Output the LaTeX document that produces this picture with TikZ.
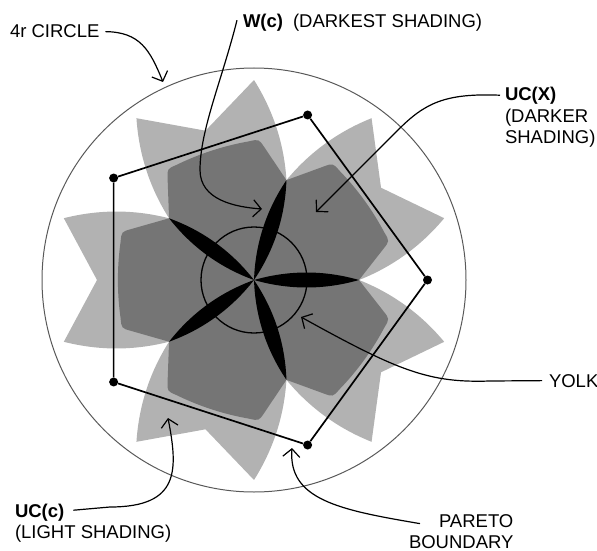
\documentclass[tikz,border=0pt]{standalone}
\usepackage{fontspec}
\setmainfont{Liberation Sans}
\usetikzlibrary{arrows.meta}
\definecolor{lightshade}{gray}{0.70}
\definecolor{darkshade}{gray}{0.46}
\definecolor{rimgray}{gray}{0.35}
\begin{document}
\begin{tikzpicture}[x=1pt,y=-1pt,
  lbl/.style={anchor=base west, inner sep=0pt, outer sep=0pt,
              font=\fontsize{18.5}{22}\selectfont},
  bold/.style={font=\fontsize{18.5}{22}\selectfont\bfseries},
  conn/.style={line width=1.2pt, -{Straight Barb[length=8pt,width=17pt]}},
  pareto/.style={line width=1.7pt},
  dot/.style={circle, fill=black, inner sep=0pt, minimum size=9pt},
  rim/.style={draw=rimgray, line width=1pt},
  yolkline/.style={draw=black, line width=1.3pt}]
\useasboundingbox (0,0) rectangle (597,551);

\begin{scope}[shift={(254,280)}]
  % uncovered set UC(c): five bow-tie lobes
  \foreach \c in {36,108,180,252,324} {
    \fill[lightshade, rotate=\c]
      (0,0) -- (84.95,61.72)
      .. controls (120,70.7) and (155,70.7) .. (190.2,61.8)
      -- (157,0) -- (190.2,-61.8)
      .. controls (155,-70.7) and (120,-70.7) .. (84.95,-61.72) -- cycle;
  }
  % UC(X): five rounded lobes
  \foreach \c in {36,108,180,252,324} {
    \fill[darkshade, rotate=\c]
      (0,0) -- (84.95,61.72) -- (122.9,50.9)
      .. controls (132.5,48.2) .. (133.4,38.2)
      .. controls (137,13) and (137,-13) .. (133.4,-38.2)
      .. controls (132.5,-48.2) .. (122.9,-50.9)
      -- (84.95,-61.72) -- cycle;
  }
  % W(c): five black petals
  \foreach \a in {0,72,144,216,288} {
    \fill[black, rotate=\a]
      (0,0) .. controls (35,10) and (70,10) .. (105,0)
      .. controls (70,-10) and (35,-10) .. (0,0) -- cycle;
  }
  % yolk and 4r circle
  \draw[yolkline] (0,0) circle[radius=53pt];
  \draw[rim] (0,0) circle[radius=212pt];
  % Pareto boundary
  \foreach \k in {0,...,4} {
    \node[dot] (p\k) at (\k*72:173.5) {};
  }
  \draw[pareto] (p0) -- (p1) -- (p2) -- (p3) -- (p4) -- (p0);
\end{scope}

% labels
\node[lbl] (t4r) at (10,38) {4r CIRCLE};
\node[lbl,bold] (twc) at (243,28) {W(c)};
\node[lbl] (twcd) at (293,28) {(DARKEST SHADING)};
\node[lbl,bold] (tucx) at (505,100) {UC(X)};
\node[lbl] (tucxa) at (505,122) {(DARKER};
\node[lbl] (tucxb) at (505,143) {SHADING)};
\node[lbl] (tyolk) at (549,387) {YOLK};
\node[lbl] (tpar) at (439,527) {PARETO};
\node[lbl] (tbnd) at (409,548) {BOUNDARY};
\node[lbl,bold] (tucc) at (15,517) {UC(c)};
\node[lbl] (tucca) at (15,538) {(LIGHT SHADING)};

% arrow targets
\coordinate (a4r) at (163,82);
\coordinate (awc) at (262,209);
\coordinate (aucx) at (316,212);
\coordinate (ayolk) at (301,317);
\coordinate (apar) at (292,448);
\coordinate (aucc) at (168,418);

% leader arrows
\draw[conn] ([xshift=6pt]t4r.east)
  .. controls (140,32) and (150,50) .. (a4r);
\draw[conn] ([xshift=-6pt,yshift=3pt]twc.west)
  .. controls (222,80) and (200,130) .. (200,170)
  .. controls (200,200) and (235,207) .. (awc);
\draw[conn] ([xshift=-5pt]tucx.west)
  .. controls (445,93) and (425,103) .. (398,130) -- (aucx);
\draw[conn] ([xshift=-7pt]tyolk.west) -- (490,381)
  .. controls (430,383) and (400,372) .. (ayolk);
\draw[conn] ([xshift=-19pt,yshift=-3pt]tpar.west)
  .. controls (340,510) and (288,500) .. (apar);
\draw[conn] ([xshift=9pt,yshift=2pt]tucc.east) -- (110,507)
  .. controls (180,507) and (178,470) .. (aucc);
\end{tikzpicture}
\end{document}
